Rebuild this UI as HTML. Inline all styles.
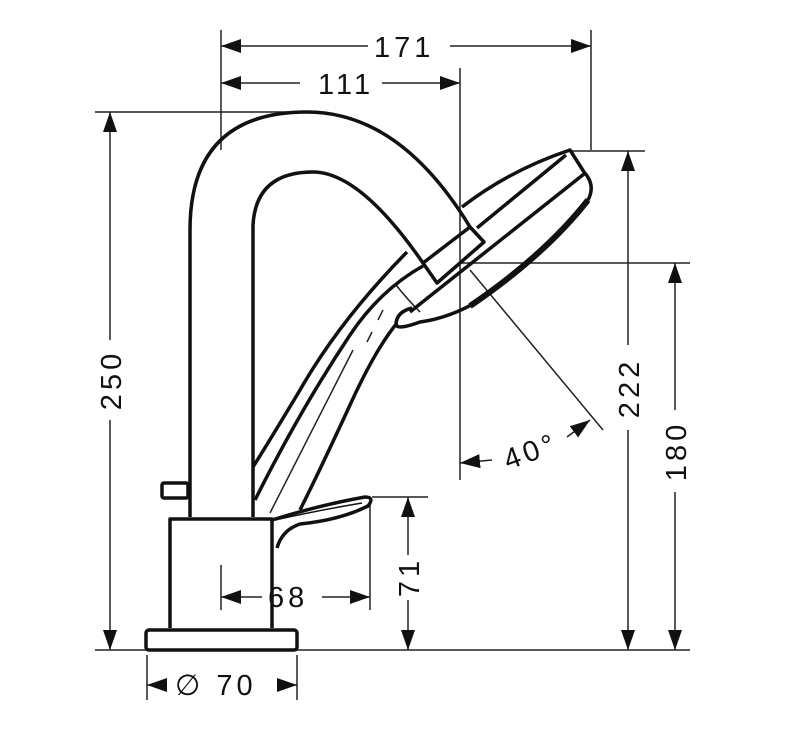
<!DOCTYPE html>
<html><head><style>
html,body{margin:0;padding:0;background:#fff;}
svg{display:block}
text{font-family:"Liberation Sans",sans-serif;font-size:29px;fill:#111;letter-spacing:4px}
</style></head><body>
<svg width="804" height="749" viewBox="0 0 804 749" xmlns="http://www.w3.org/2000/svg">
<defs>
<marker id="a" viewBox="0 0 20 14" refX="20" refY="7" markerWidth="20" markerHeight="14" markerUnits="userSpaceOnUse" orient="auto-start-reverse"><path d="M0,0 L20,7 L0,14 Z" fill="#111"/></marker>
</defs>
<g stroke="#222" stroke-width="1.5" fill="none">
<line x1="221" y1="30" x2="221" y2="150"/>
<line x1="591" y1="30" x2="591" y2="150"/>
<line x1="460" y1="68" x2="460" y2="480"/>
<line x1="95" y1="112" x2="300" y2="112"/>
<line x1="570" y1="151" x2="645" y2="151"/>
<line x1="460" y1="263" x2="690" y2="263"/>
<line x1="372" y1="497" x2="428" y2="497"/>
<line x1="370" y1="505" x2="370" y2="610"/>
<line x1="221" y1="565" x2="221" y2="610"/>
<line x1="95" y1="650" x2="690" y2="650"/>
<line x1="147" y1="655" x2="147" y2="700"/>
<line x1="297" y1="655" x2="297" y2="700"/>
<line x1="221" y1="46" x2="368" y2="46" marker-start="url(#a)"/>
<line x1="450" y1="46" x2="591" y2="46" marker-end="url(#a)"/>
<line x1="221" y1="83" x2="300" y2="83" marker-start="url(#a)"/>
<line x1="382" y1="83" x2="460" y2="83" marker-end="url(#a)"/>
<line x1="110" y1="112" x2="110" y2="340" marker-start="url(#a)"/>
<line x1="110" y1="420" x2="110" y2="650" marker-end="url(#a)"/>
<line x1="628" y1="151" x2="628" y2="345" marker-start="url(#a)"/>
<line x1="628" y1="430" x2="628" y2="650" marker-end="url(#a)"/>
<line x1="675" y1="263" x2="675" y2="410" marker-start="url(#a)"/>
<line x1="675" y1="492" x2="675" y2="650" marker-end="url(#a)"/>
<line x1="408" y1="497" x2="408" y2="555" marker-start="url(#a)"/>
<line x1="408" y1="600" x2="408" y2="650" marker-end="url(#a)"/>
<line x1="221" y1="597" x2="262" y2="597" marker-start="url(#a)"/>
<line x1="322" y1="597" x2="370" y2="597" marker-end="url(#a)"/>
<line x1="147" y1="685" x2="167" y2="685" marker-start="url(#a)"/>
<line x1="277" y1="685" x2="297" y2="685" marker-end="url(#a)"/>
<line x1="460" y1="463" x2="492" y2="460" marker-start="url(#a)"/>
<line x1="567" y1="437" x2="590" y2="420" marker-end="url(#a)"/>
<line x1="470" y1="270" x2="603" y2="430"/>
<path d="M396,285 Q408,300 420,312" />
<path d="M353,350 L270,513"/>
<path d="M383,310 L378,320 M372,332 L367,342" />
</g>
<g stroke="#111" stroke-width="3.5" fill="none" stroke-linejoin="round">
<path d="M190,517 L190,230 Q190,112 307,112 Q400,112 470,227"/>
<path d="M253,517 L253,225 Q256,172 313,172 Q360,172 423,263"/>
<path d="M423,263 L470,227 L484,242 L437,283 Z"/>
<!-- head -->
<path d="M462,207 Q510,170 570,150 L584,172 Q596,185 588,200"/>
<path d="M566,155 L477,228"/>
<path d="M584,174 L478,258 L425,300 L410,312"/>
<path d="M588,200 Q545,255 480,300 Q450,318 420,322 Q398,330 396,325 Q396,312 412,308"/>
<path d="M588,200 Q545,255 470,306" stroke-width="6"/>
<!-- hose -->
<path d="M407,252 Q340,320 300,390 Q270,440 253,467"/>
<path d="M423,266 Q380,290 350,335 Q300,410 255,500"/>
<path d="M397,323 Q375,350 350,405 Q320,470 300,510"/>
<rect x="162" y="483" width="26" height="15" rx="2"/>
<path d="M170,628 L170,519 L272,519 L272,628"/>
<rect x="146" y="630" width="151" height="20" rx="3"/>
<path d="M272,520 Q320,505 365,497 Q375,497 368,506 Q340,520 300,524 Q282,530 277,548"/>
<path d="M275,520 Q320,510 362,503" stroke-width="1.5"/>
</g>
<text x="374" y="57">171</text>
<text x="318" y="94">111</text>
<text transform="translate(121,380) rotate(-90)" text-anchor="middle">250</text>
<text transform="translate(639,388) rotate(-90)" text-anchor="middle">222</text>
<text transform="translate(686,451) rotate(-90)" text-anchor="middle">180</text>
<text transform="translate(419,577) rotate(-90)" text-anchor="middle">71</text>
<text x="268" y="607">68</text>
<text x="175" y="695">∅ 70</text>
<text transform="translate(508,470) rotate(-20)">40°</text>
</svg>
</body></html>
